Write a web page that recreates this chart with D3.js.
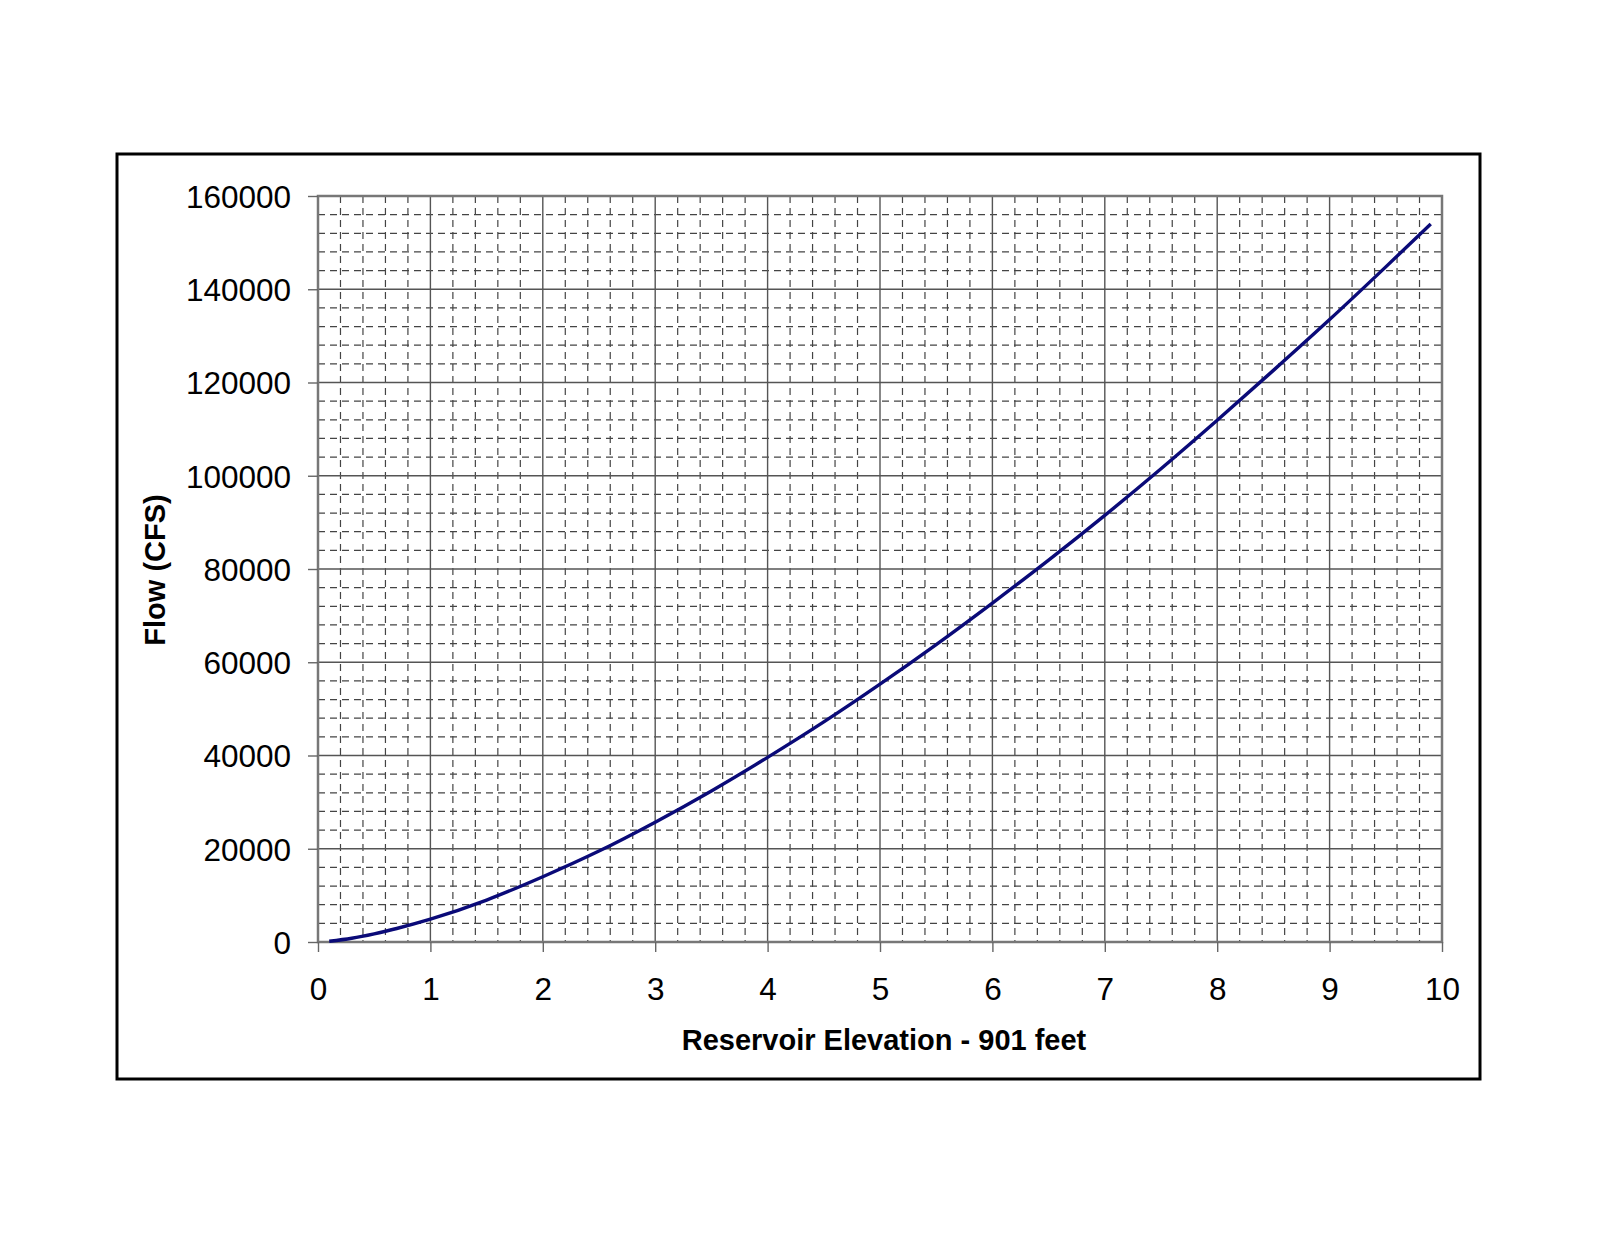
<!DOCTYPE html>
<html>
<head>
<meta charset="utf-8">
<script src="https://cdn.jsdelivr.net/npm/d3@7"></script>
<style>
  body { margin: 0; background: #fff; }
  text { font-family: Arial, "Liberation Sans", sans-serif; fill: #000; }
</style>
</head>
<body>
<svg id="svg"></svg>
<script>
// reservoir elevation above 901 ft vs flow
var elevation = [0.1, 0.3, 0.5, 0.7, 1, 1.5, 2, 2.5, 3, 3.5, 4, 4.5, 5, 5.5, 6, 6.5, 7, 7.5, 8, 8.5, 9, 9.5, 9.9];
var flow = [150, 800, 1750, 2900, 4900, 9000, 14000, 19500, 25700, 32400, 39600, 47200, 55300,
            63800, 72700, 81900, 91500, 101500, 111900, 122600, 133500, 144800, 154000];
var xTicks = [0, 1, 2, 3, 4, 5, 6, 7, 8, 9, 10];
var yTicks = [0, 20000, 40000, 60000, 80000, 100000, 120000, 140000, 160000];

var W = 1600, H = 1236;
var plot = {left: 318, right: 1442, top: 196, bottom: 942};

var svg = d3.select("#svg")
    .attr("width", W)
    .attr("height", H);

var x_scale = d3.scaleLinear()
    .domain([0, 10])
    .range([plot.left, plot.right]);

var y_scale = d3.scaleLinear()
    .domain([0, 160000])
    .range([plot.bottom, plot.top]);

// outer frame
svg.append("rect")
    .attr("x", 117).attr("y", 154)
    .attr("width", 1363).attr("height", 925)
    .attr("fill", "none")
    .attr("stroke", "#000")
    .attr("stroke-width", 3);

// minor grid, dashed
var xMinor = d3.range(0, 10.001, 0.2).filter(function(d){ return Math.abs(d - Math.round(d)) > 0.01; });
var yMinor = d3.range(0, 160001, 4000).filter(function(d){ return d % 20000 != 0; });

svg.append("g").selectAll("line")
    .data(xMinor).join("line")
    .attr("x1", function(d){ return x_scale(d); })
    .attr("x2", function(d){ return x_scale(d); })
    .attr("y1", plot.top).attr("y2", plot.bottom)
    .attr("stroke", "#444")
    .attr("stroke-width", 1.2)
    .attr("stroke-dasharray", "7,5");

svg.append("g").selectAll("line")
    .data(yMinor).join("line")
    .attr("y1", function(d){ return y_scale(d); })
    .attr("y2", function(d){ return y_scale(d); })
    .attr("x1", plot.left).attr("x2", plot.right)
    .attr("stroke", "#444")
    .attr("stroke-width", 1.2)
    .attr("stroke-dasharray", "7,5");

// major grid
svg.append("g").selectAll("line")
    .data(xTicks).join("line")
    .attr("x1", function(d){ return x_scale(d); })
    .attr("x2", function(d){ return x_scale(d); })
    .attr("y1", plot.top).attr("y2", plot.bottom)
    .attr("stroke", "#555")
    .attr("stroke-width", 1.4);

svg.append("g").selectAll("line")
    .data(yTicks).join("line")
    .attr("y1", function(d){ return y_scale(d); })
    .attr("y2", function(d){ return y_scale(d); })
    .attr("x1", plot.left).attr("x2", plot.right)
    .attr("stroke", "#555")
    .attr("stroke-width", 1.4);

// plot area border
svg.append("rect")
    .attr("x", plot.left).attr("y", plot.top)
    .attr("width", plot.right - plot.left).attr("height", plot.bottom - plot.top)
    .attr("fill", "none")
    .attr("stroke", "#777")
    .attr("stroke-width", 2.5);

// axes
var xAxis = d3.axisBottom(x_scale).tickValues(xTicks).tickSize(10).tickPadding(26).tickFormat(d3.format("d"));
var yAxis = d3.axisLeft(y_scale).tickValues(yTicks).tickSize(10).tickPadding(17).tickFormat(d3.format("d"));

var gx = svg.append("g").attr("transform", "translate(0," + plot.bottom + ")").call(xAxis);
var gy = svg.append("g").attr("transform", "translate(" + plot.left + ",0)").call(yAxis);

[gx, gy].forEach(function(g){
  g.select(".domain").remove();
  g.selectAll(".tick line").attr("stroke", "#666").attr("stroke-width", 1.4);
  g.selectAll(".tick text")
    .attr("font-family", "Arial, 'Liberation Sans', sans-serif")
    .attr("font-size", 31.5)
    .attr("fill", "#000");
});
gy.selectAll(".tick text").attr("dy", "0.36em");

// titles
svg.append("text")
    .attr("x", 884).attr("y", 1050)
    .attr("text-anchor", "middle")
    .attr("font-size", 29)
    .attr("font-weight", "bold")
    .text("Reservoir Elevation - 901 feet");

svg.append("text")
    .attr("transform", "translate(165,570) rotate(-90)")
    .attr("text-anchor", "middle")
    .attr("font-size", 29)
    .attr("font-weight", "bold")
    .text("Flow (CFS)");

// rating curve
var lineData = elevation.map(function(e, i){ return {h: e, q: flow[i]}; });
var lineFunction = d3.line()
    .x(function(d){ return x_scale(d.h); })
    .y(function(d){ return y_scale(d.q); })
    .curve(d3.curveMonotoneX);

svg.append("path")
    .attr("d", lineFunction(lineData))
    .attr("stroke", "#0a0a78")
    .attr("stroke-width", 3.4)
    .attr("fill", "none");
</script>
</body>
</html>
